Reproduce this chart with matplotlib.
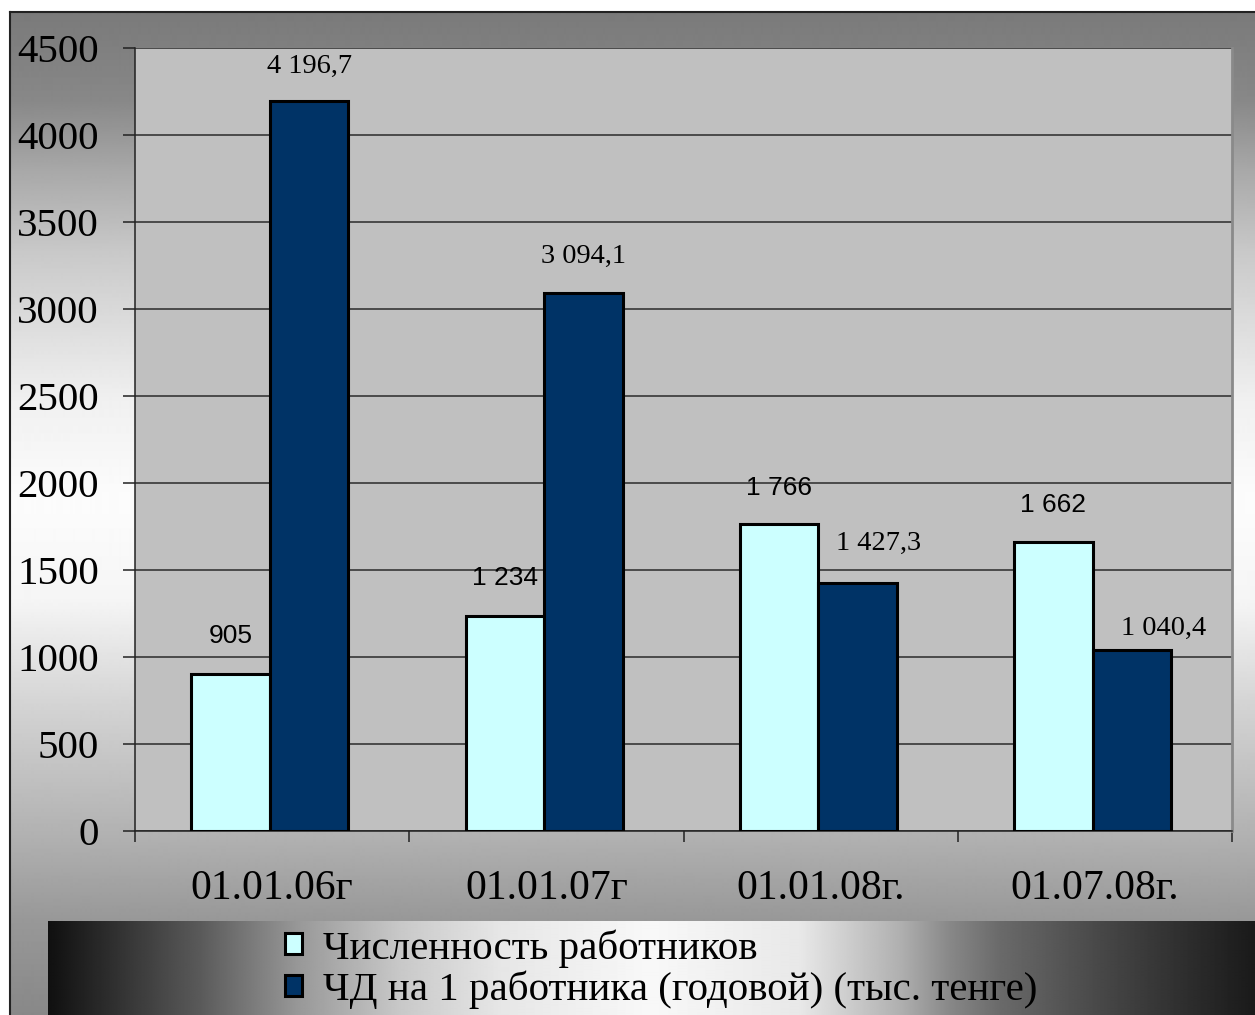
import matplotlib.pyplot as plt
import numpy as np

# --- data ---
dates = ["01.01.06г", "01.01.07г", "01.01.08г.", "01.07.08г."]
staff = [905, 1234, 1766, 1662]
income_per_worker = [4196.7, 3094.1, 1427.3, 1040.4]
series_names = ["Численность работников",
                "ЧД на 1 работника (годовой) (тыс. тенге)"]

LIGHT = "#CCFFFF"
DARK = "#003366"
SERIF = "Liberation Serif"
SANS = "Liberation Sans"

W, H = 1255, 1015


def ru_num(v, decimals):
    s = f"{v:,.{decimals}f}"
    return s.replace(",", " ").replace(".", ",")


fig = plt.figure(figsize=(W / 100, H / 100), dpi=100)
fig.patch.set_facecolor("white")

# outer frame with a vertical grey gradient
bg = fig.add_axes([10 / W, 0, 1 - 10 / W, (H - 12) / H], zorder=0)
rows = np.arange(12, H)
stops_y = [12, 100, 170, 250, 300, 400, 500, 600, 700, 840, 920, 1015]
stops_v = [0x7a, 0x88, 0xa8, 0xc8, 0xd6, 0xf0, 0xfc, 0xf5, 0xd5, 0xb0, 0x98, 0x88]
col = np.interp(rows, stops_y, stops_v) / 255.0
bg.imshow(np.repeat(col[:, None], 2, axis=1), cmap="gray", vmin=0, vmax=1,
          aspect="auto", extent=[0, 1, 0, 1], interpolation="bilinear")
bg.set_xticks([])
bg.set_yticks([])
for side in ["right", "bottom"]:
    bg.spines[side].set_visible(False)
for side in ["left", "top"]:
    bg.spines[side].set_linewidth(1.5)
    bg.spines[side].set_color("#222222")

# legend band with a horizontal black-white-black gradient
lg = fig.add_axes([48 / W, 0, 1 - 48 / W, (H - 921) / H], zorder=1)
cols = np.arange(48, W)
lx = [48, 200, 300, 400, 500, 650, 800, 900, 950, 1000, 1100, 1200, 1255]
lv = [0x10, 0x5a, 0x99, 0xc8, 0xe6, 0xf8, 0xe8, 0xb0, 0x88, 0x6a, 0x48, 0x2a, 0x1a]
band = np.interp(cols, lx, lv) / 255.0
lg.imshow(np.repeat(band[None, :], 2, axis=0), cmap="gray", vmin=0, vmax=1,
          aspect="auto", extent=[0, 1, 0, 1], interpolation="bilinear")
lg.set_axis_off()

# plot area
ax = fig.add_axes([135 / W, 1 - 831 / H, (1232 - 135) / W, (831 - 48) / H], zorder=2)
ax.set_facecolor("#C0C0C0")

x = np.arange(len(dates))
bw = 0.286
b1 = ax.bar(x - bw / 2 - 0.008, staff, bw, color=LIGHT, edgecolor="black",
            linewidth=2.2, zorder=3, label=series_names[0])
b2 = ax.bar(x + bw / 2 - 0.008, income_per_worker, bw, color=DARK,
            edgecolor="black", linewidth=2.2, zorder=3, label=series_names[1])

ax.set_xlim(-0.5, len(dates) - 0.5)
ax.set_ylim(0, 4500)
ax.set_yticks(np.arange(0, 4501, 500))
ax.yaxis.grid(True, color="#2a2a2a", linewidth=1.1, zorder=1)
ax.set_axisbelow(True)

ax.set_xticks(x)
ax.set_xticklabels(dates, family=SERIF, fontsize=30)
ax.set_xticks(np.arange(-0.5, len(dates)), minor=True)
ax.tick_params(axis="x", which="major", length=0, pad=28)
ax.tick_params(axis="x", which="minor", length=8, width=1.1, direction="out",
               color="#222222")
ax.tick_params(axis="y", length=9, width=1.1, direction="out", pad=17,
               color="#222222")
for t in ax.get_yticklabels():
    t.set_family(SERIF)
    t.set_fontsize(29.5)

ax.spines["top"].set_visible(False)
ax.spines["right"].set_color("#8a8a8a")
ax.spines["right"].set_linewidth(2)
for side in ["left", "bottom"]:
    ax.spines[side].set_color("#222222")
    ax.spines[side].set_linewidth(1.1)

# value labels (offsets in pixels)
staff_off = [(0, 38), (0, 38), (0, 36), (0, 37)]
inc_off = [(0, 34), (0, 36), (21, 39), (32, 22)]
for rect, v, off in zip(b1, staff, staff_off):
    ax.annotate(ru_num(v, 0), (rect.get_x() + rect.get_width() / 2, v),
                xytext=off, textcoords="offset pixels", ha="center",
                va="center", family=SANS, fontsize=19, zorder=5)
for rect, v, off in zip(b2, income_per_worker, inc_off):
    ax.annotate(ru_num(v, 1), (rect.get_x() + rect.get_width() / 2, v),
                xytext=off, textcoords="offset pixels", ha="center",
                va="center", family=SERIF, fontsize=20.5, zorder=5)

leg = fig.legend(handles=[b1, b2], labels=series_names, loc="upper left",
                 bbox_to_anchor=(285 / W, (H - 929) / H), frameon=False,
                 prop={"family": SERIF, "size": 29.5}, handlelength=0.42,
                 handleheight=0.42, handletextpad=0.5, labelspacing=0.08,
                 borderpad=0, borderaxespad=0)
leg.set_zorder(5)

fig.savefig("out.png", dpi=100)
